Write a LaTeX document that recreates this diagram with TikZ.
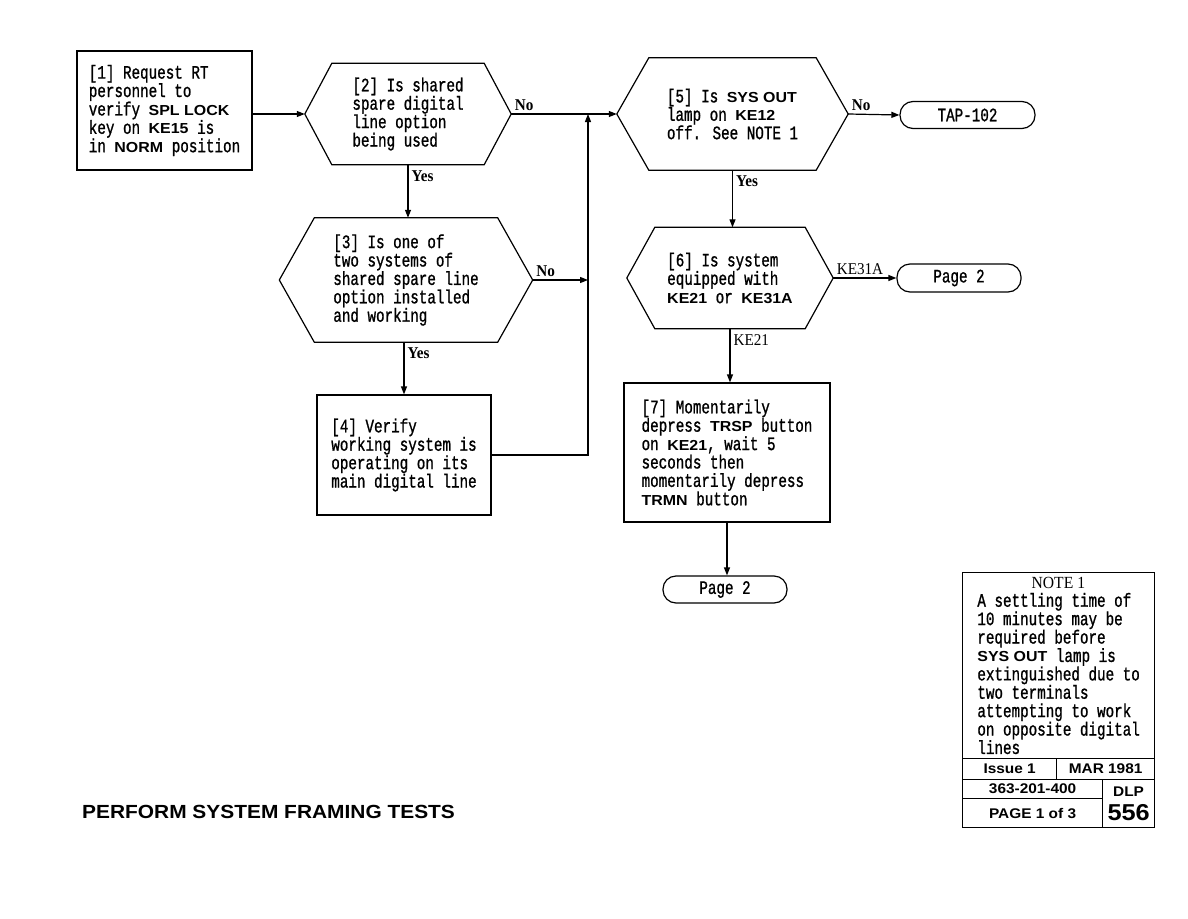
\documentclass[tikz,border=0pt]{standalone}
\usepackage{fontspec}
\usepackage{tikz}
\usetikzlibrary{arrows.meta}

\newfontfamily\typefont{Liberation Mono}[FakeStretch=0.75, UprightFeatures={FakeBold=1.0}]
\newfontfamily\keyfont{Liberation Sans}[FakeStretch=1.1]
\newfontfamily\labfont{Liberation Serif}[FakeStretch=0.92]
\newcommand\kw[1]{{\keyfont\bfseries\fontsize{14.5}{18.4}\selectfont #1}}
\newcommand\hexframe[2]{%
  \draw[line width=1.2pt] (#1.west) -- ([xshift=#2]#1.north west) -- ([xshift=-#2]#1.north east)
    -- (#1.east) -- ([xshift=-#2]#1.south east) -- ([xshift=#2]#1.south west) -- cycle;}

\tikzset{
  body/.style={font=\typefont\fontsize{19}{18.4}\selectfont, align=left, inner sep=0pt},
  stepbox/.style={body, draw, line width=1.2pt},
  question/.style={body},
  terminal/.style={draw, line width=1.2pt, rounded corners=13pt, inner sep=0pt,
    font=\typefont\fontsize{19}{18.4}\selectfont},
  flow/.style={line width=1.2pt, -{Triangle[length=8pt,width=6pt]}},
  answer/.style={font=\labfont\bfseries\fontsize{16.5}{18}\selectfont, inner sep=3pt},
  choice/.style={font=\labfont\fontsize{16.5}{18}\selectfont, inner sep=3pt},
  cell/.style={draw, line width=1.2pt, inner sep=0pt, font=\keyfont\bfseries\fontsize{14}{16}\selectfont}
}

\begin{document}
\begin{tikzpicture}[x=1pt, y=-1pt]
    \useasboundingbox (0,0) rectangle (1188,918);

    % Draw nodes
    \node[stepbox, minimum width=175pt, minimum height=119pt] (s1) at (164.5,110.5)
      {[1] Request RT\\personnel to\\verify \kw{SPL LOCK}\\key on \kw{KE15} is\\in \kw{NORM} position};
    \node[question, minimum width=206pt, minimum height=101pt] (q2) at (408,114)
      {[2] Is shared\\spare digital\\line option\\being used};
    \node[question, minimum width=253pt, minimum height=124pt] (q3) at (406,280)
      {[3] Is one of\\two systems of\\shared spare line\\option installed\\and working};
    \node[stepbox, minimum width=174pt, minimum height=120pt] (s4) at (404,455)
      {[4] Verify\\working system is\\operating on its\\main digital line};
    \node[question, minimum width=231pt, minimum height=112pt] (q5) at (732.5,114)
      {[5] Is \kw{SYS OUT}\\lamp on \kw{KE12}\\off. See NOTE 1};
    \node[question, minimum width=206pt, minimum height=101pt] (q6) at (730,278)
      {[6] Is system\\equipped with\\\kw{KE21} or \kw{KE31A}};
    \node[stepbox, minimum width=206pt, minimum height=139pt] (s7) at (727,452.5)
      {[7] Momentarily\\depress \kw{TRSP} button\\on \kw{KE21}, wait 5\\seconds then\\momentarily depress\\\kw{TRMN} button};
    \node[terminal, minimum width=135pt, minimum height=27pt] (tap) at (967.5,115) {TAP-102};
    \node[terminal, minimum width=124pt, minimum height=28pt] (pg2a) at (959,278) {Page 2};
    \node[terminal, minimum width=124pt, minimum height=27pt] (pg2b) at (725,589.5) {Page 2};
    \coordinate (join) at (588,114);

    % Hexagon outlines
    \hexframe{q2}{27pt}
    \hexframe{q3}{35pt}
    \hexframe{q5}{32pt}
    \hexframe{q6}{28pt}

    % Draw connections
    \draw[flow] (s1.east |- q2.west) -- (q2.west);
    \draw[flow] (q2.east) -- (q5.west) node[answer, pos=0, above right] {No};
    \draw[flow] (q2.south) -- (q2.south |- q3.north) node[answer, pos=0, below right, yshift=-2pt] {Yes};
    \draw[flow] (q3.east) -- (q3.east -| join) node[answer, pos=0, above right] {No};
    \draw[flow] (q3.south -| s4.north) -- (s4.north) node[answer, pos=0, below right, yshift=-2pt] {Yes};
    \draw[flow] (s4.east) -- (s4.east -| join) -- (join);
    \draw[flow] (q5.east) -- (tap.west) node[answer, pos=0, above right] {No};
    \draw[flow] (q5.south) -- (q5.south |- q6.north) node[answer, pos=0, below right, yshift=-2pt] {Yes};
    \draw[flow] (q6.east) -- (pg2a.west) node[choice, pos=0, above right] {KE31A};
    \draw[flow] (q6.south) -- (q6.south |- s7.north) node[choice, pos=0, below right, yshift=-2pt] {KE21};
    \draw[flow] (s7.south) -- (s7.south |- pg2b.north);

    % Note and page block
    \node[stepbox, minimum width=192pt, minimum height=186pt, anchor=north west] (note) at (962,572)
      {\makebox[162pt][c]{\labfont\fontsize{17}{18.4}\selectfont NOTE 1}\\
       A settling time of\\10 minutes may be\\required before\\\kw{SYS OUT} lamp is\\extinguished due to\\two terminals\\attempting to work\\on opposite digital\\lines};
    \node[cell, minimum width=94pt, minimum height=21pt, anchor=north west] (issue) at (962,758) {Issue 1};
    \node[cell, minimum width=98pt, minimum height=21pt, anchor=north west] (date) at (1056,758) {MAR 1981};
    \node[cell, minimum width=140pt, minimum height=19pt, anchor=north west] (docno) at (962,779) {363-201-400};
    \node[cell, minimum width=140pt, minimum height=29pt, anchor=north west] (page) at (962,798) {PAGE 1 of 3};
    \node[cell, minimum width=52pt, minimum height=48pt, anchor=north west, align=center] (dlp) at (1102,779)
      {DLP\\[7pt]{\fontsize{23}{23}\selectfont 556}};

    % Labels
    \node[anchor=west, inner sep=0pt, font=\keyfont\bfseries\fontsize{19}{24}\selectfont] (title) at (82,812)
      {PERFORM SYSTEM FRAMING TESTS};
\end{tikzpicture}
\end{document}
